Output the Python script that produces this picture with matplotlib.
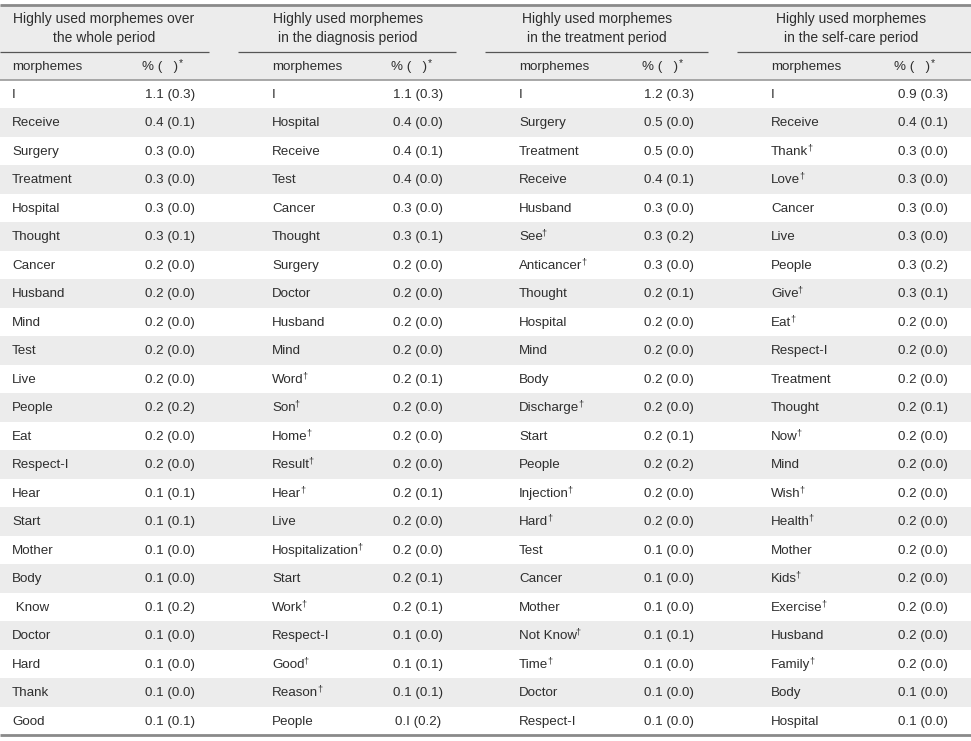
import matplotlib
matplotlib.use("Agg")
import matplotlib.pyplot as plt
from matplotlib.patches import Rectangle

plt.rcParams['font.family'] = ['Liberation Sans', 'DejaVu Sans']

# ---------------- data ----------------
group_titles = [
    "Highly used morphemes over\nthe whole period",
    "Highly used morphemes\nin the diagnosis period",
    "Highly used morphemes\nin the treatment period",
    "Highly used morphemes\nin the self-care period",
]
col_header_name = "morphemes"
col_header_val = "% (   )"

whole_words = ["I", "Receive", "Surgery", "Treatment", "Hospital", "Thought", "Cancer",
               "Husband", "Mind", "Test", "Live", "People", "Eat", "Respect-I", "Hear",
               "Start", "Mother", "Body", " Know", "Doctor", "Hard", "Thank", "Good"]
whole_pct = ["1.1", "0.4", "0.3", "0.3", "0.3", "0.3", "0.2", "0.2", "0.2", "0.2", "0.2",
             "0.2", "0.2", "0.2", "0.1", "0.1", "0.1", "0.1", "0.1", "0.1", "0.1", "0.1", "0.1"]
whole_sd = ["0.3", "0.1", "0.0", "0.0", "0.0", "0.1", "0.0", "0.0", "0.0", "0.0", "0.0",
            "0.2", "0.0", "0.0", "0.1", "0.1", "0.0", "0.0", "0.2", "0.0", "0.0", "0.0", "0.1"]

diag_words = ["I", "Hospital", "Receive", "Test", "Cancer", "Thought", "Surgery", "Doctor",
              "Husband", "Mind", "Word†", "Son†", "Home†", "Result†", "Hear†", "Live",
              "Hospitalization†", "Start", "Work†", "Respect-I", "Good†", "Reason†", "People"]
diag_pct = ["1.1", "0.4", "0.4", "0.4", "0.3", "0.3", "0.2", "0.2", "0.2", "0.2", "0.2",
            "0.2", "0.2", "0.2", "0.2", "0.2", "0.2", "0.2", "0.2", "0.1", "0.1", "0.1", "0.I"]
diag_sd = ["0.3", "0.0", "0.1", "0.0", "0.0", "0.1", "0.0", "0.0", "0.0", "0.0", "0.1",
           "0.0", "0.0", "0.0", "0.1", "0.0", "0.0", "0.1", "0.1", "0.0", "0.1", "0.1", "0.2"]

treat_words = ["I", "Surgery", "Treatment", "Receive", "Husband", "See†", "Anticancer†",
               "Thought", "Hospital", "Mind", "Body", "Discharge†", "Start", "People",
               "Injection†", "Hard†", "Test", "Cancer", "Mother", "Not Know†", "Time†",
               "Doctor", "Respect-I"]
treat_pct = ["1.2", "0.5", "0.5", "0.4", "0.3", "0.3", "0.3", "0.2", "0.2", "0.2", "0.2",
             "0.2", "0.2", "0.2", "0.2", "0.2", "0.1", "0.1", "0.1", "0.1", "0.1", "0.1", "0.1"]
treat_sd = ["0.3", "0.0", "0.0", "0.1", "0.0", "0.2", "0.0", "0.1", "0.0", "0.0", "0.0",
            "0.0", "0.1", "0.2", "0.0", "0.0", "0.0", "0.0", "0.0", "0.1", "0.0", "0.0", "0.0"]

self_words = ["I", "Receive", "Thank†", "Love†", "Cancer", "Live", "People", "Give†", "Eat†",
              "Respect-I", "Treatment", "Thought", "Now†", "Mind", "Wish†", "Health†",
              "Mother", "Kids†", "Exercise†", "Husband", "Family†", "Body", "Hospital"]
self_pct = ["0.9", "0.4", "0.3", "0.3", "0.3", "0.3", "0.3", "0.3", "0.2", "0.2", "0.2",
            "0.2", "0.2", "0.2", "0.2", "0.2", "0.2", "0.2", "0.2", "0.2", "0.2", "0.1", "0.1"]
self_sd = ["0.3", "0.1", "0.0", "0.0", "0.0", "0.0", "0.2", "0.1", "0.0", "0.0", "0.0",
           "0.1", "0.0", "0.0", "0.0", "0.0", "0.0", "0.0", "0.0", "0.0", "0.0", "0.0", "0.0"]

groups = [
    (whole_words, whole_pct, whole_sd),
    (diag_words, diag_pct, diag_sd),
    (treat_words, treat_pct, treat_sd),
    (self_words, self_pct, self_sd),
]

# ---------------- layout ----------------
W, H = 971, 741
fig = plt.figure(figsize=(W / 100, H / 100), dpi=100)
ax = fig.add_axes([0, 0, 1, 1])
ax.set_xlim(0, W)
ax.set_ylim(H, 0)
ax.axis('off')

txt_col = '#2e2e2e'
stripe = '#ececec'
body_fs = 9.6
head_fs = 10.0

top_y = 4.5
group_line_y = 51.5
sub_line_y = 79.5
row_h = 28.5
n_rows = len(whole_words)
bottom_y = sub_line_y + n_rows * row_h
text_dy = 0.8

name_x = [12, 272, 519, 771]
val_cx = [170, 418, 669, 923]
head_val_cx = [160, 409, 660, 912]
title_cx = [104, 348, 597, 851]
underline_span = [(0, 209), (238, 456), (485, 708), (737, 971)]

ax.add_patch(Rectangle((0, top_y), W, sub_line_y - top_y, facecolor=stripe, edgecolor='none', zorder=0))
for i in range(n_rows):
    if i % 2 == 1:
        y0 = sub_line_y + i * row_h
        ax.add_patch(Rectangle((0, y0), W, row_h, facecolor=stripe, edgecolor='none', zorder=0))

ax.plot([0, W], [top_y, top_y], color='#8a8a8a', lw=2.0, zorder=2, solid_capstyle='butt')
ax.plot([0, W], [bottom_y, bottom_y], color='#8a8a8a', lw=2.0, zorder=2, solid_capstyle='butt')
ax.plot([0, W], [sub_line_y, sub_line_y], color='#9a9a9a', lw=1.2, zorder=2, solid_capstyle='butt')
for (x0, x1) in underline_span:
    ax.plot([x0, x1], [group_line_y, group_line_y], color='#555555', lw=0.9, zorder=2,
            solid_capstyle='butt')

fig.canvas.draw()
renderer = fig.canvas.get_renderer()
inv = ax.transData.inverted()


def x_right(t):
    bb = t.get_window_extent(renderer=renderer)
    return inv.transform((bb.x1, bb.y1))[0]


for g in range(4):
    ax.text(title_cx[g], 28 + text_dy, group_titles[g], ha='center', va='center', fontsize=head_fs,
            color=txt_col, linespacing=1.45)
    ax.text(name_x[g], 66 + text_dy, col_header_name, ha='left', va='center', fontsize=body_fs,
            color=txt_col)
    th = ax.text(head_val_cx[g], 66 + text_dy, col_header_val, ha='center', va='center',
                 fontsize=body_fs, color=txt_col)
    ax.text(x_right(th) + 0.3, 62.5 + text_dy, '*', ha='left', va='center', fontsize=7.5,
            color=txt_col)

for g, (words, pct, sd) in enumerate(groups):
    for i, (w, p, s) in enumerate(zip(words, pct, sd)):
        yc = sub_line_y + (i + 0.5) * row_h + text_dy
        dag = w.endswith('†')
        base = w[:-1] if dag else w
        t = ax.text(name_x[g], yc, base, ha='left', va='center', fontsize=body_fs, color=txt_col)
        if dag:
            ax.text(x_right(t) - 1.2, yc - 4.0, '†', ha='left', va='center', fontsize=6.5,
                    color=txt_col)
        ax.text(val_cx[g], yc, f"{p} ({s})", ha='center', va='center', fontsize=body_fs,
                color=txt_col)

fig.savefig('out.png', dpi=100)
